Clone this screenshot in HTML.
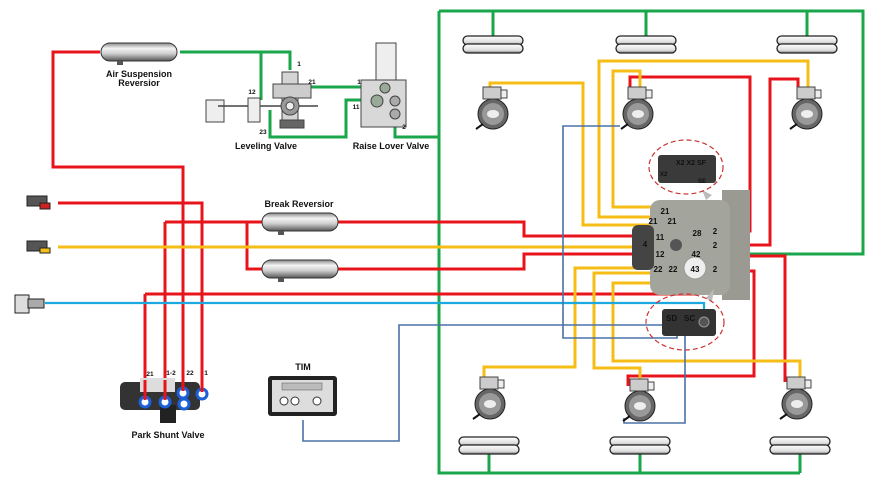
<!DOCTYPE html>
<html><head><meta charset="utf-8"><style>
html,body{margin:0;padding:0;background:#fff;}
svg{display:block;}
text{font-family:"Liberation Sans",sans-serif;font-weight:bold;fill:#111;}
</style></head><body>
<svg width="880" height="481" viewBox="0 0 880 481" xmlns="http://www.w3.org/2000/svg">
<defs>
<linearGradient id="tk" x1="0" y1="0" x2="0" y2="1">
<stop offset="0" stop-color="#888"/><stop offset="0.3" stop-color="#f4f4f4"/><stop offset="0.6" stop-color="#ccc"/><stop offset="1" stop-color="#555"/></linearGradient>
<linearGradient id="bl" x1="0" y1="0" x2="0" y2="1">
<stop offset="0" stop-color="#fff"/><stop offset="0.7" stop-color="#ddd"/><stop offset="1" stop-color="#777"/></linearGradient>
<g id="bellow"><rect x="-30" y="0" width="60" height="9" rx="4.5" fill="url(#bl)" stroke="#222" stroke-width="1.3"/><rect x="-30" y="8" width="60" height="9" rx="4.5" fill="url(#bl)" stroke="#222" stroke-width="1.3"/></g>
<g id="wheel"><circle r="15" fill="#666" stroke="#222"/><circle r="11" fill="#999"/><ellipse rx="6" ry="4" fill="#eee"/><line x1="-10" y1="10" x2="-17" y2="15" stroke="#111" stroke-width="2"/><rect x="-10" y="-27" width="18" height="12" fill="#ccc" stroke="#444"/><rect x="8" y="-24" width="6" height="8" fill="#eee" stroke="#444"/></g>
<g id="tank"><rect x="0" y="0" width="76" height="18" rx="9" fill="url(#tk)" stroke="#333"/><rect x="16" y="18" width="6" height="4" fill="#555"/></g>
</defs>

<!-- GREEN -->
<g fill="none" stroke="#1aa64a" stroke-width="3">
<path d="M439 11 H863 V254 H700"/>
<path d="M439 11 V473 H800"/>
<path d="M493 11 V36 M646 11 V36 M807 11 V36"/>
<path d="M489 453 V473 M640 453 V473 M800 453 V473"/>
<path d="M180 52 H290 V70 M261 52 V100"/>
<path d="M308 87 H385"/>
<path d="M376 100 H346 V137 H270 V110"/>
<path d="M395 115 V137 H439"/>
</g>

<!-- RED -->
<g fill="none" stroke="#e8141b" stroke-width="3">
<path d="M100 52 H53 V167 H183 V395"/>
<path d="M58 203 H202 V385"/>
<path d="M165 222 H262 M165 222 V400"/>
<path d="M247 222 V269 H262"/>
<path d="M337 222 H524 V236 H660"/>
<path d="M337 269 H524 V254 H660"/>
<path d="M145 294 H695 V277 M145 294 V400"/>
<path d="M630 90 V77 H750 V231 H715"/>
<path d="M798 90 V79 H770 V245 H715"/>
<path d="M720 256 H785 V382"/>
<path d="M720 271 H754 V376 H628 V386"/>
</g>

<!-- YELLOW -->
<g fill="none" stroke="#f6bd16" stroke-width="3">
<path d="M58 247 H642"/>
<path d="M490 88 V83 H583 V225 H652"/>
<path d="M808 92 V61 H599 V217 H660"/>
<path d="M640 92 V71 H613 V207 H665"/>
<path d="M655 268 H575 V367 H484 V385"/>
<path d="M660 273 H594 V368 H640 V382"/>
<path d="M665 283 H613 V361 H800 V382"/>
</g>

<!-- CYAN -->
<path d="M45 303 H704 V312" fill="none" stroke="#1ca9e0" stroke-width="2.2"/>

<!-- BLUE -->
<g fill="none" stroke="#4a72a8" stroke-width="1.6">
<path d="M303 420 V441 H399 V325 H690 V318"/>
<path d="M620 126 H563 V338 H677 V318"/>
<path d="M685 318 V423 H624 V418"/>
</g>

<!-- Tanks -->
<use href="#tank" x="101" y="43"/>
<use href="#tank" x="262" y="213"/>
<use href="#tank" x="262" y="260"/>

<!-- Bellows -->
<use href="#bellow" x="493" y="36"/>
<use href="#bellow" x="646" y="36"/>
<use href="#bellow" x="807" y="36"/>
<use href="#bellow" x="489" y="437"/>
<use href="#bellow" x="640" y="437"/>
<use href="#bellow" x="800" y="437"/>

<!-- Wheels -->
<use href="#wheel" x="493" y="114"/>
<use href="#wheel" x="638" y="114"/>
<use href="#wheel" x="807" y="114"/>
<use href="#wheel" x="490" y="404"/>
<use href="#wheel" x="640" y="406"/>
<use href="#wheel" x="797" y="404"/>

<!-- Leveling valve -->
<g stroke="#444" fill="#ddd">
<rect x="206" y="100" width="18" height="22" fill="#eee"/>
<line x1="218" y1="106" x2="318" y2="106" stroke-width="1.5"/>
<rect x="248" y="98" width="12" height="24" fill="#eee"/>
<rect x="282" y="72" width="16" height="55" fill="#d4d4d4"/>
<rect x="273" y="84" width="38" height="14" fill="#ccc"/>
<circle cx="290" cy="106" r="9" fill="#999"/>
<circle cx="290" cy="106" r="4" fill="#eee"/>
<rect x="280" y="120" width="24" height="8" fill="#666"/>
</g>
<!-- Raise lower valve -->
<g stroke="#444" fill="#ddd">
<rect x="376" y="43" width="20" height="38" fill="#eee"/>
<rect x="361" y="80" width="45" height="47" fill="#d8d8d8"/>
<circle cx="385" cy="88" r="5" fill="#9a9"/>
<circle cx="377" cy="101" r="6" fill="#9a9"/>
<circle cx="395" cy="101" r="5" fill="#aaa"/>
<circle cx="395" cy="114" r="5" fill="#aaa"/>
</g>

<!-- Couplings -->
<g fill="#555" stroke="#222">
<rect x="27" y="196" width="20" height="10"/><rect x="40" y="203" width="10" height="6" fill="#c22"/>
<rect x="27" y="241" width="20" height="10"/><rect x="40" y="248" width="10" height="5" fill="#f6bd16"/>
<rect x="15" y="295" width="14" height="18" fill="#ddd"/><rect x="28" y="299" width="16" height="9" fill="#aaa"/>
</g>

<!-- Park shunt valve -->
<g>
<rect x="120" y="382" width="80" height="28" rx="5" fill="#333"/>
<rect x="140" y="378" width="35" height="14" fill="#ddd"/>
<rect x="160" y="405" width="16" height="18" fill="#222"/>
<circle cx="145" cy="402" r="5" fill="#fff" stroke="#1c5fd6" stroke-width="3"/>
<circle cx="165" cy="402" r="5" fill="#fff" stroke="#1c5fd6" stroke-width="3"/>
<circle cx="183" cy="393" r="5" fill="#fff" stroke="#1c5fd6" stroke-width="3"/>
<circle cx="184" cy="404" r="5" fill="#fff" stroke="#1c5fd6" stroke-width="3"/>
<circle cx="202" cy="394" r="5" fill="#fff" stroke="#1c5fd6" stroke-width="3"/>
</g>
<g stroke="#e8141b" stroke-width="3"><line x1="145" y1="380" x2="145" y2="400"/><line x1="165" y1="380" x2="165" y2="400"/><line x1="183" y1="380" x2="183" y2="391"/><line x1="202" y1="380" x2="202" y2="392"/></g>

<!-- TIM -->
<rect x="268" y="376" width="69" height="40" rx="3" fill="#222"/>
<rect x="272" y="380" width="61" height="32" fill="#ddd"/>
<rect x="282" y="383" width="40" height="7" fill="#bbb" stroke="#555" stroke-width="0.5"/>
<circle cx="284" cy="401" r="4" fill="#fff" stroke="#333"/><circle cx="295" cy="401" r="4" fill="#fff" stroke="#333"/><circle cx="317" cy="401" r="4" fill="#fff" stroke="#333"/>

<!-- Modulator -->
<g>
<rect x="722" y="190" width="28" height="110" fill="#9a9a92"/>
<rect x="650" y="200" width="80" height="95" rx="10" fill="#a3a59c"/>
<rect x="632" y="225" width="22" height="45" rx="6" fill="#444"/>
<circle cx="676" cy="245" r="6" fill="#555"/>
<circle cx="695" cy="268" r="11" fill="#eee" stroke="#999"/>
</g>
<g font-size="8" text-anchor="middle">
<text x="665" y="214" fill="#fff">21</text><text x="653" y="224" fill="#fff">21</text><text x="672" y="224" fill="#fff">21</text>
<text x="660" y="240" fill="#fff">11</text><text x="645" y="247" fill="#fff">4</text><text x="660" y="257" fill="#fff">12</text>
<text x="658" y="272" fill="#fff">22</text><text x="673" y="272" fill="#fff">22</text><text x="695" y="272">43</text>
<text x="697" y="236" fill="#fff">28</text><text x="715" y="234" fill="#fff">2</text><text x="715" y="248" fill="#fff">2</text>
<text x="696" y="257" fill="#fff">42</text><text x="715" y="272" fill="#fff">2</text>
</g>
<!-- callouts -->
<polygon points="702,190 712,195 706,200" fill="#bbb"/>
<ellipse cx="686" cy="167" rx="37" ry="27" fill="none" stroke="#c33" stroke-width="1.2" stroke-dasharray="5,3"/>
<rect x="658" y="155" width="58" height="28" rx="3" fill="#3a3a3a"/>
<text x="676" y="165" font-size="7" fill="#fff">X2 X2 SF</text><text x="660" y="176" font-size="6" fill="#fff">X2</text><text x="698" y="183" font-size="6" fill="#fff">SE</text>
<polygon points="706,298 714,289 712,302" fill="#bbb"/>
<ellipse cx="685" cy="322" rx="39" ry="28" fill="none" stroke="#c33" stroke-width="1.2" stroke-dasharray="5,3"/>
<rect x="662" y="309" width="54" height="27" rx="3" fill="#333"/>
<text x="666" y="321" font-size="8" fill="#fff">SD</text><text x="684" y="321" font-size="8" fill="#fff">SC</text>
<circle cx="704" cy="322" r="5" fill="#555" stroke="#999"/>

<!-- Labels -->
<g font-size="9" text-anchor="middle">
<text x="139" y="77">Air Suspension</text><text x="139" y="86">Reversior</text>
<text x="266" y="149">Leveling Valve</text>
<text x="391" y="149">Raise Lover Valve</text>
<text x="299" y="207">Break Reversior</text>
<text x="168" y="438">Park Shunt Valve</text>
<text x="303" y="370">TIM</text>
</g>
<g font-size="6.5" text-anchor="middle">
<text x="299" y="66">1</text><text x="312" y="84">21</text><text x="252" y="94">12</text><text x="263" y="134">23</text>
<text x="359" y="84">1</text><text x="356" y="109">11</text><text x="404" y="129">2</text>
<text x="150" y="376">21</text><text x="171" y="375">1-2</text><text x="190" y="375">22</text><text x="206" y="375">1</text>
</g>
</svg>
</body></html>
